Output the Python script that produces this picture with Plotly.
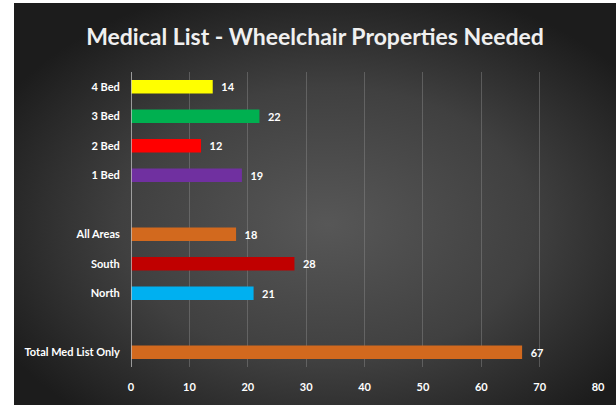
import base64
import plotly.graph_objects as go

# Data
categories = ["4 Bed", "3 Bed", "2 Bed", "1 Bed", "All Areas", "South", "North", "Total Med List Only"]
values = [14, 22, 12, 19, 18, 28, 21, 67]
bar_colors = ["#FFFF00", "#00B050", "#FF0000", "#7030A0", "#D2691E", "#C00000", "#00B0F0", "#D2691E"]
category_order = ["4 Bed", "3 Bed", "2 Bed", "1 Bed", " ", "All Areas", "South", "North", "  ", "Total Med List Only"]
x_ticks = [0, 10, 20, 30, 40, 50, 60, 70, 80]
title_text = "Medical List - Wheelchair Properties Needed"

W, H = 616, 405
L, R, T, B = 131, 18, 72, 38
pw, ph = W - L - R, H - T - B

svg = f'''<svg xmlns="http://www.w3.org/2000/svg" width="602" height="402" viewBox="0 0 602 402">
<defs><radialGradient id="g" cx="0.52" cy="0.55" r="0.62" fx="0.52" fy="0.55">
<stop offset="0" stop-color="#575757"/>
<stop offset="0.55" stop-color="#404040"/>
<stop offset="1" stop-color="#1c1c1c"/>
</radialGradient></defs>
<rect width="602" height="402" fill="url(#g)"/></svg>'''
src = "data:image/svg+xml;base64," + base64.b64encode(svg.encode()).decode()

px0, py0, px1, py1 = 14, 3, 616, 405
img = dict(
    source=src, xref="paper", yref="paper",
    x=(px0 - L) / pw, y=(H - B - py0) / ph,
    sizex=(px1 - px0) / pw, sizey=(py1 - py0) / ph,
    xanchor="left", yanchor="top", sizing="stretch", layer="below",
)

fig = go.Figure()
fig.add_trace(go.Bar(
    x=values, y=categories, orientation="h",
    marker=dict(color=bar_colors, line=dict(width=0)),
    width=0.45,
    text=[f"\u2002<b>{v}</b>" for v in values], textposition="outside",
    textfont=dict(color="white", size=11, family="Lato"),
    cliponaxis=False,
))

fig.update_layout(
    width=W, height=H,
    margin=dict(l=L, r=R, t=T, b=B, pad=0),
    paper_bgcolor="white", plot_bgcolor="rgba(0,0,0,0)",
    images=[img],
    showlegend=False,
    title=dict(text=f"<b>{title_text}</b>", x=315 / W, xanchor="center", y=1 - 37 / H, yanchor="middle",
               font=dict(color="#f0f0f0", size=23, family="Lato")),
    xaxis=dict(range=[0, 80], tickvals=x_ticks, ticktext=[f"<b>{t}</b>" for t in x_ticks],
               showgrid=True, gridcolor="rgba(140,140,140,0.45)", gridwidth=1,
               zeroline=False, showline=False,
               tickfont=dict(color="white", size=11, family="Lato"),
               ticks="outside", ticklen=10, tickcolor="rgba(0,0,0,0)"),
    yaxis=dict(type="category", categoryorder="array", categoryarray=category_order,
               tickvals=category_order,
               ticktext=[f"<b>{c}</b>" if c.strip() else c for c in category_order],
               range=[9.5, -0.5], showgrid=False, zeroline=False,
               showline=False,
               tickfont=dict(color="white", size=11, family="Lato"),
               ticks="outside", ticklen=8, tickcolor="rgba(0,0,0,0)"),
    shapes=[dict(type="line", xref="x", yref="paper", x0=0, x1=0, y0=0, y1=1,
                 line=dict(color="#bfbfbf", width=1.5))],
    font=dict(family="Lato"),
)
fig.write_html("out.html")
